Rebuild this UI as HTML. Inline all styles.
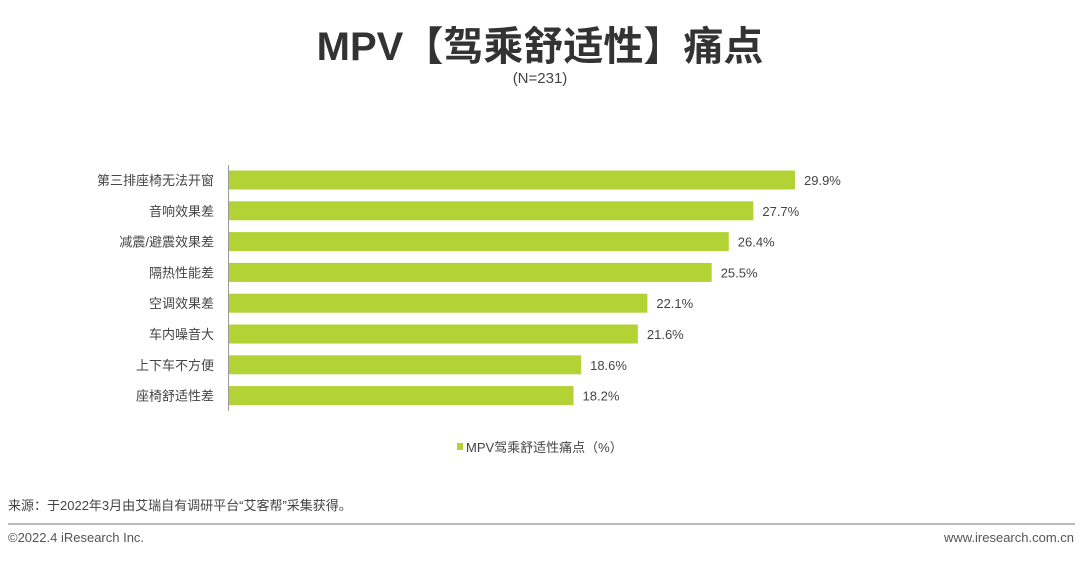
<!DOCTYPE html>
<html><head><meta charset="utf-8"><style>
body{margin:0;width:1080px;height:560px;background:#fff;overflow:hidden;font-family:"Liberation Sans","Noto Sans CJK SC",sans-serif;}
</style></head><body>
<svg width="1080" height="560" xmlns="http://www.w3.org/2000/svg" font-family="Liberation Sans, Noto Sans CJK SC, sans-serif">
<text x="540" y="60" text-anchor="middle" font-size="40" font-weight="bold" fill="#333">MPV【驾乘舒适性】痛点</text>
<text x="540" y="83" text-anchor="middle" font-size="15" fill="#444">(N=231)</text>
<line x1="228.5" y1="165" x2="228.5" y2="411" stroke="#999" stroke-width="1"/>
<g id="bars"></g>
<rect x="457" y="443" width="6" height="7" fill="#b3d235"/>
<text x="466" y="452" font-size="13" fill="#444">MPV驾乘舒适性痛点（%）</text>
<text x="8" y="510" font-size="13" fill="#444">来源：于2022年3月由艾瑞自有调研平台“艾客帮”采集获得。</text>
<line x1="8" y1="524" x2="1075" y2="524" stroke="#bbb" stroke-width="2"/>
<text x="8" y="542" font-size="13" fill="#555">©2022.4 iResearch Inc.</text>
<text x="1074" y="542" text-anchor="end" font-size="13" fill="#555">www.iresearch.com.cn</text>
</svg>
<script>
const categories=["第三排座椅无法开窗","音响效果差","减震/避震效果差","隔热性能差","空调效果差","车内噪音大","上下车不方便","座椅舒适性差"];
const values=[29.9,27.7,26.4,25.5,22.1,21.6,18.6,18.2];
const x0=229, pxPer=18.93, y0=180, step=30.8, bh=19;
const xs=v=>x0+v*pxPer;
const ys=i=>y0+i*step;
const g=document.getElementById('bars');
const NS="http://www.w3.org/2000/svg";
categories.forEach((c,i)=>{
  const r=document.createElementNS(NS,'rect');
  r.setAttribute('x',x0);r.setAttribute('y',ys(i)-bh/2);
  r.setAttribute('width',xs(values[i])-x0);r.setAttribute('height',bh);
  r.setAttribute('fill','#b3d235');
  
  
  g.appendChild(r);
  const l=document.createElementNS(NS,'text');
  l.setAttribute('x',214);l.setAttribute('y',ys(i)+5);
  l.setAttribute('text-anchor','end');l.setAttribute('font-size','13');l.setAttribute('fill','#444');
  l.textContent=c;
  
  
  g.appendChild(l);
  const v=document.createElementNS(NS,'text');
  v.setAttribute('x',xs(values[i])+9);v.setAttribute('y',ys(i)+5);
  v.setAttribute('font-size','13');v.setAttribute('fill','#444');
  v.textContent=values[i].toFixed(1)+'%';
  
  
  g.appendChild(v);
});
</script>
</body></html>
